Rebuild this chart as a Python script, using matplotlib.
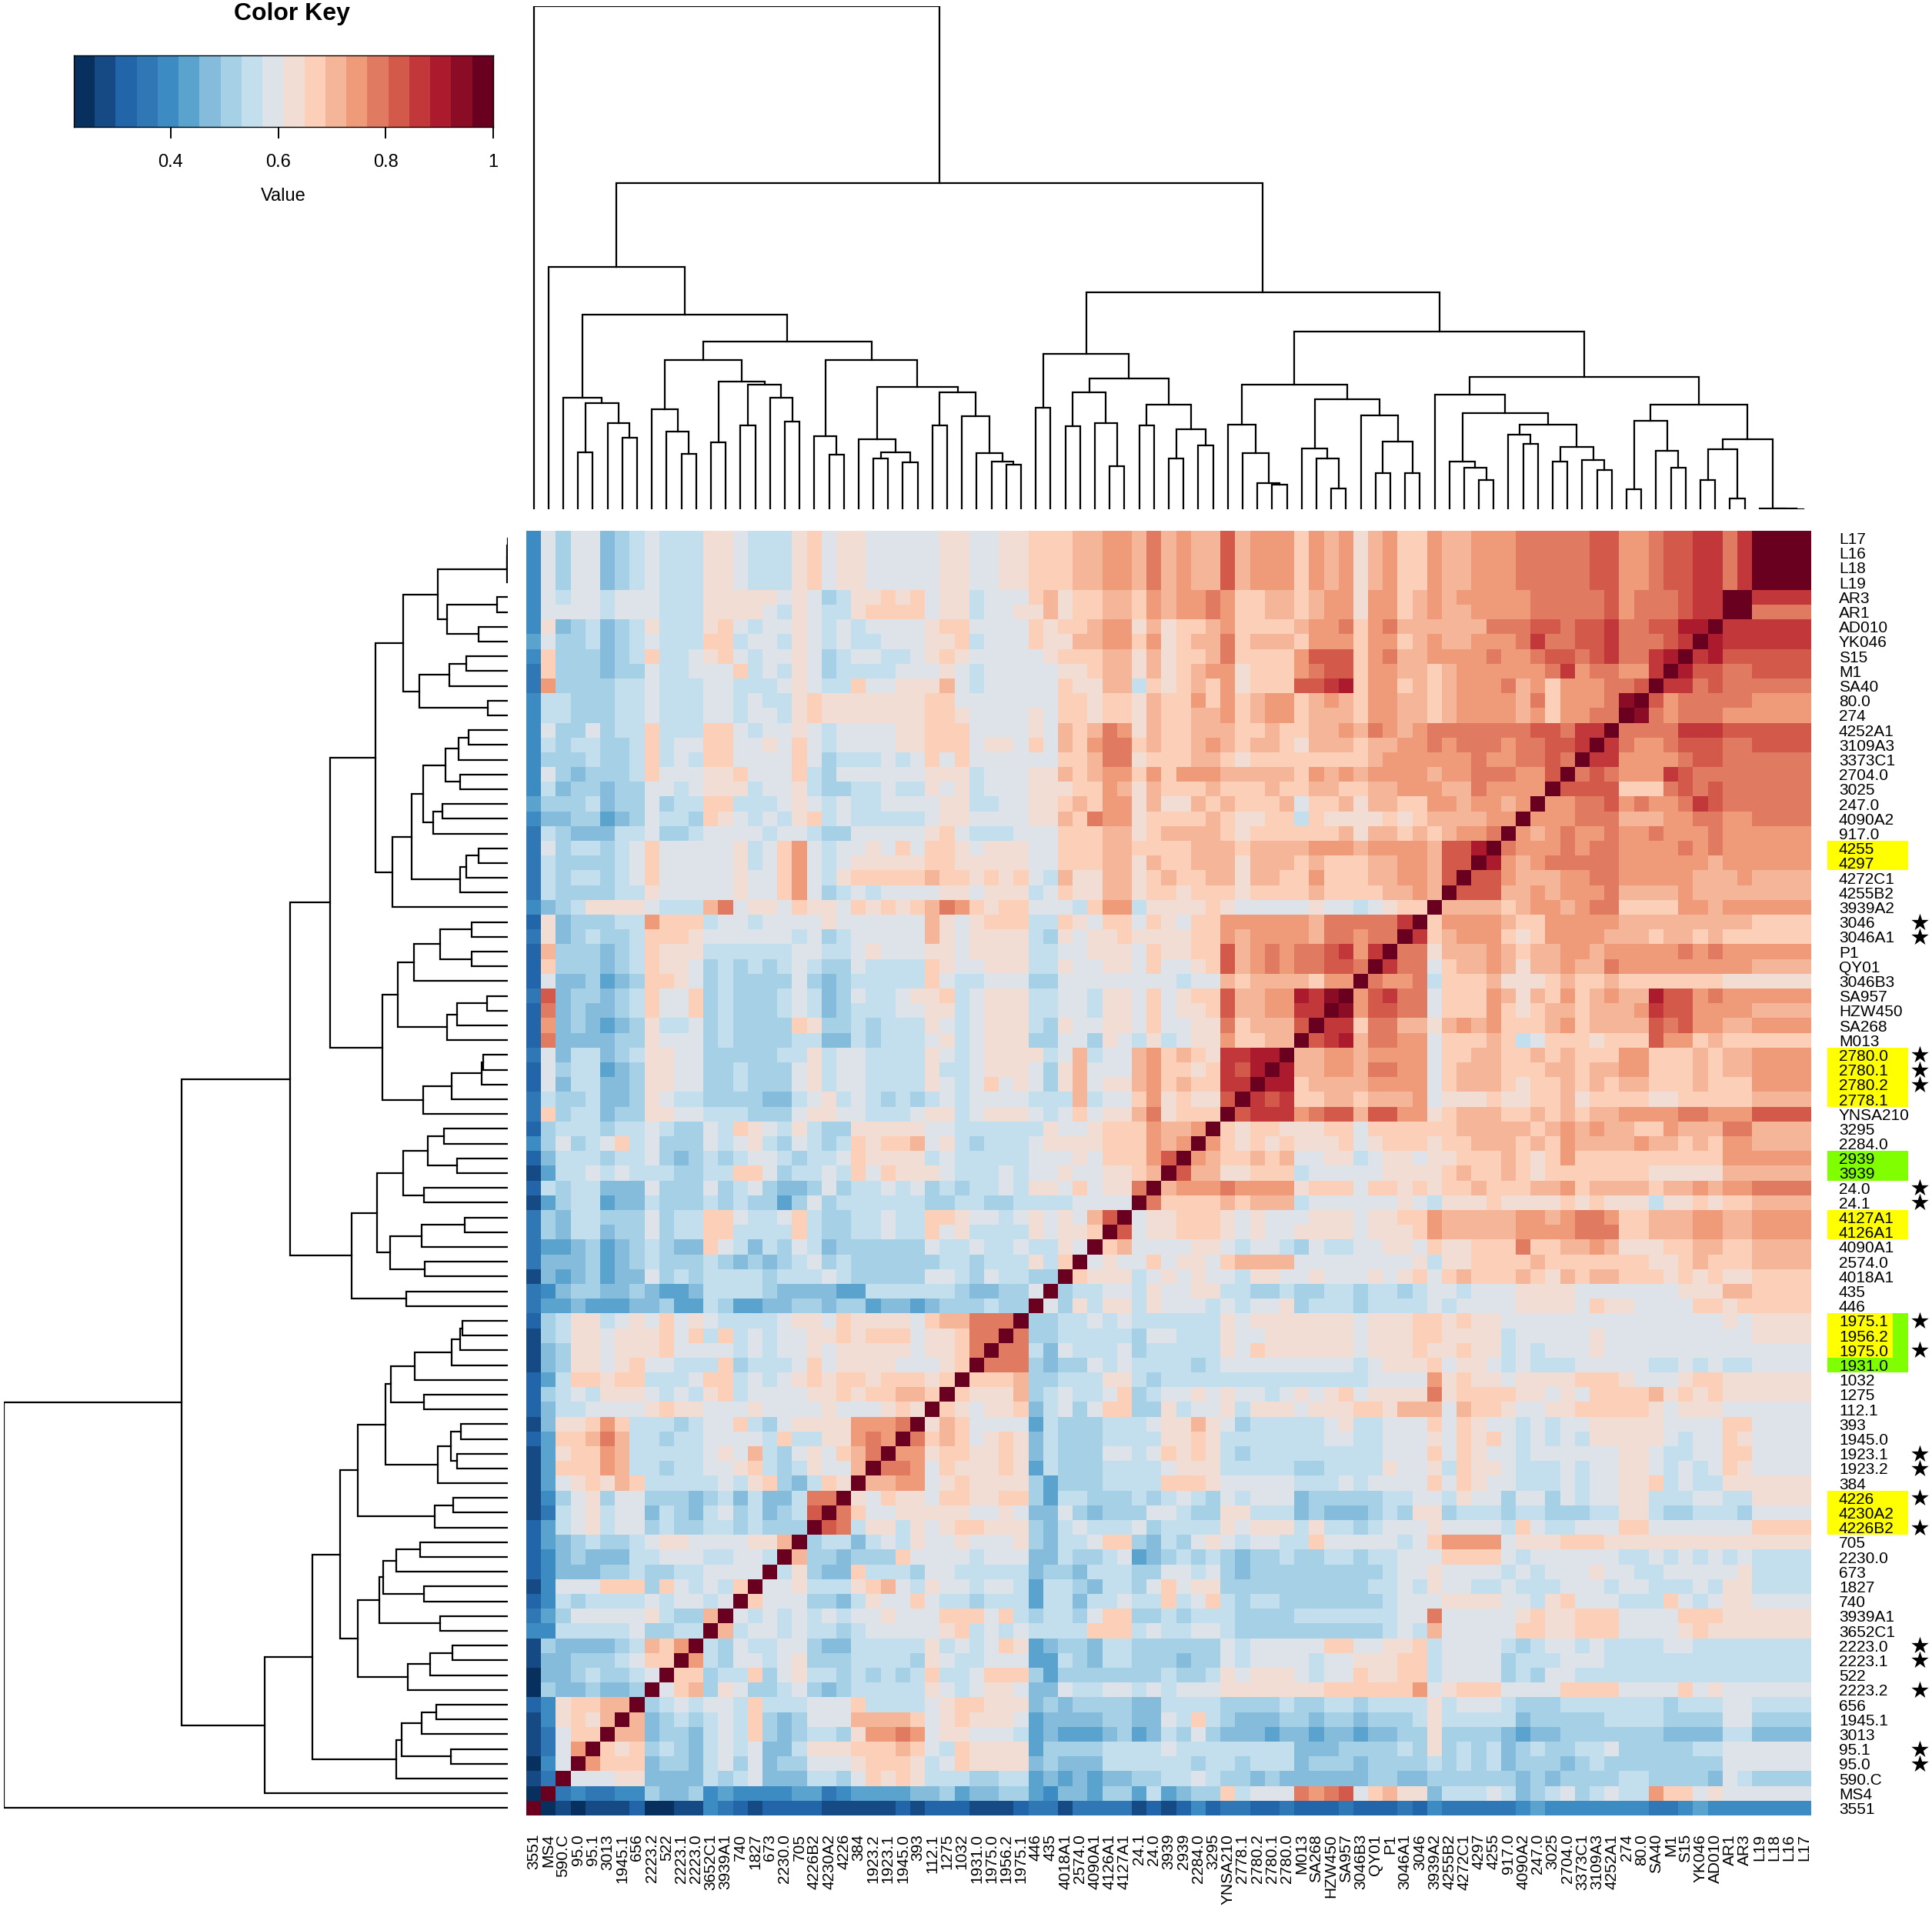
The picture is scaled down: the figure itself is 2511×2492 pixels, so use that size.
import numpy as np
import matplotlib
matplotlib.use("Agg")
import matplotlib.pyplot as plt
from matplotlib.colors import ListedColormap, BoundaryNorm
from matplotlib.patches import Rectangle
from matplotlib.collections import LineCollection

plt.rcParams['font.family'] = ['Liberation Sans', 'DejaVu Sans']

# ---------------- data ----------------
row_labels = ["L17", "L16", "L18", "L19", "AR3", "AR1", "AD010", "YK046", "S15", "M1",
              "SA40", "80.0", "274", "4252A1", "3109A3", "3373C1", "2704.0", "3025", "247.0",
              "4090A2", "917.0", "4255", "4297", "4272C1", "4255B2", "3939A2", "3046", "3046A1",
              "P1", "QY01", "3046B3", "SA957", "HZW450", "SA268", "M013", "2780.0", "2780.1",
              "2780.2", "2778.1", "YNSA210", "3295", "2284.0", "2939", "3939", "24.0", "24.1",
              "4127A1", "4126A1", "4090A1", "2574.0", "4018A1", "435", "446", "1975.1", "1956.2",
              "1975.0", "1931.0", "1032", "1275", "112.1", "393", "1945.0", "1923.1", "1923.2",
              "384", "4226", "4230A2", "4226B2", "705", "2230.0", "673", "1827", "740", "3939A1",
              "3652C1", "2223.0", "2223.1", "522", "2223.2", "656", "1945.1", "3013", "95.1",
              "95.0", "590.C", "MS4", "3551"]
col_labels = row_labels[::-1]

# colour-key bin (0..19, base-20 digit) of each cell left of the diagonal, row by row
level_rows = [
    "4979967898 88aa9888ab 9aa99999a a99aabbbcc ddcecdccfc dddbdcdac dbbdccddde eeeeffddef fggegjjj",
    "4979967898 88aa9888ab 9aa99999a a99aabbbcc ddcecdccfc dddbdcdac dbbdccddde eeeeffddef fggegjj",
    "4979967898 88aa9888ab 9aa99999a a99aabbbcc ddcecdccfc dddbdcdac dbbdccddde eeeeffddef fggegj",
    "4979967898 88aa9888ab 9aa99999a a99aabbbcc ddcecdccfc dddbdcdac dbbdccddde eeeeffddef fggeg",
    "4989989998 88aaaaa9a9 78aabab9a a8999bcabb ccbdcddedb bccbcddad dbcdcddddd eeeeefdeee fggj",
    "4999989998 88aaaa98a9 88abbbb9a a899aacabb ccbdcddedb bccbcddad dbcdccdddd eeeeefdeee fgg",
    "4a678678a8 88ab9899a9 8989999ab b9999babbc ddacabbcdb bbbcddebd ecccccceee ffeffgeeff hh",
    "5977867898 88bb8998a9 8988999aa b8999baacc ddbdabcceb cccbdddbd dbcdccddde geeffgeeef g",
    "4b777678b8 89ab9899a9 7899889ab a99999abbb ccacabbceb bbbdfffbd eccddddedd effefgeegh",
    "3b77767798 8999b898a9 78888999a 9899999aab ccacabcdda bbbdeffbd dccbcddddd degdeeddg",
    "3d77778898 88998889a9 88b99aaac 9899999baa cc8babcbda bbbffghbd dbcbcdddec dbdddeef",
    "4887778898 88998988ab aaaaaaabb 9999999bba bbacbbdbdb cddbcdcbd dccbcddddc ebdddei",
    "4887778898 88998998ab aaaaaaabb a9999a9bba bbacbbccdb cddbcccbd dccbcddddc dbddee",
    "49779788b8 88bb9899a9 89999aabb b9999a9cbc edacbbcccb bcbbccdce dcdeeeeeee ffegg",
    "48788778b8 99bb99a9b9 89999aabb b9aa9b9cbd eebcbbcdcb ccbacccbc cddedeeede effg",
    "47778778b8 98bb9999b9 7888989b9 b999999bbc eeabbbccba bbbbbbbbc ddddddedde efe",
    "49767778b9 99aab999b8 7999999aa a8999aacbc ddbdbdddcc cccbdcdcd dddcddeeed df",
    "4867767799 89aaa899a8 7788988a9 a8999aaabb dcacbbbcbb bcbbccbbc cdddccedddd",
    "5777867797 88bb8889a9 89889999a a8899aabcb ddacaacbcb bbc9bbcac cbbddcddcd",
    "4667756798 87ba9898ab 89888889a a9999aacbe ddabbbbcba abb8baaaa babccccdd",
    "3876668897 7899998998 7799999ab 9888999bbb ccabccccba bbbbbbcac cbcbcdde",
    "39788789b9 9999a89bd9 899a9b9bb a9aaa99bbb ccbbbbcccb ccccdddcd dddcffh",
    "38777789b9 9999a89bd9 89aaaaabb aaaaa99bbb ccacbbccca cccbcbbbc cddcff",
    "38788789b9 9999a99bd9 8abbbbbcb babab98caa ccabcbbcca ccbbdbbbc cddcf",
    "38777788a9 9999a99bd9 78989999a a9aaa89baa ccabbabbba bbbbcbbbb ccdc",
    "4678aaaa98 88ce9aa9ba a9bababce dbabb9998b dd8aaaaba9 9999a9989 abb",
    "2a677788db bb89989999 a999999ca 9abbb88ba9 bb9ba9bbdd ddddceeee eg",
    "3a678778bb ba99999989 7899999ca 9aaaa87a9a abaaaabbdc ddddceede e",
    "2c777678ba aa88888899 889a999aa 9aaaa8899a aa9baabbfc dedeefgdg",
    "2b777678ba a978787898 7798888ba 99aaa88a99 aa9b99abfc dedeeffe",
    "29667567bb a978777797 6788888b9 8899977999 99999899cb ccccbdd",
    "3f677678b9 9b78777898 679889aab 89aaa88998 aa9b9abbfc cddhgi",
    "2e676678b9 9b78777898 6788899aa 89aaa88998 aa9b9aabfc cddgg",
    "2d676567a8 89787777ba 7787888a9 89aaa87a99 aa9b99aaeb cccf",
    "2e666677a9 9978777788 66878889a 89aaa77997 a98a89aadb bcc",
    "39688678aa 997777788a 8998888a9 89aaaa89c8 99cdbcbagg hh",
    "29788567aa 997787779a 8998888a8 89aaa97ac9 99cdbbabgf h",
    "29688667aa 997787779a 8998888a9 89b9a97ac9 aacdbcbbgg",
    "38778667a9 8877776689 a89878789 89999888c8 99bdabaaf",
    "3b788677aa 998887779a a998889aa 89aaa989b9 aaceabbb",
    "2788878898 7798ba98a8 77aaaaa99 888888a99a bbbdccd",
    "479789b897 77989a8798 78babbc9a 878889aaaa bbbdcd",
    "2688878897 6787899878 89baaaa89 88888999a9 bbbdf",
    "1588989888 7788bb9788 98b9baaa9 8889899a99 aabc",
    "2878866697 7797897667 978898978 78898aa9b9 aae",
    "1578856687 7787877579 788888877 887788889999",
    "3768877797 88bb9889b8 7788988bb a9989a9a9cf",
    "3768867797 88bb8888b8 7788988b9 a8888a9aab",
    "3556756787 66b9868798 677777798 8988988a9",
    "3666756787 7787676789 787777778 87888a8b",
    "1656756697 8788887888 987777799 8798877",
    "3467766765 5688887666 655888888 766779",
    "3556555667 5587556677 677566567 77877",
    "278aa89a9b 9a988889aa 9baaaa9bc ceee",
    "178aa9aaab 9b8b89899a ababbb9aa bee",
    "167aa9aaab 999989899a 9aaaaa9aa be",
    "167aa9ab99 888b78889b 9aaaa999a b",
    "258bbabb88 89bb8989ab abbabbbab",
    "27898aaa98 98ab89999a ababbccb",
    "26889999ab aa999a9999 a999aba",
    "16aabdb888 7899b879aa aaddde",
    "25bbcec887 8899998b88 aaded",
    "15abbdc888 889a9c879a 9bce",
    "15bbbdc887 8899ab878a 99c",
    "159abacb88 88898ab768 ba",
    "1479a79977 767868668e e",
    "1389a89968 768978678f",
    "2589a89978 778878777",
    "256787789a a9999aac",
    "2467666889 9988998",
    "2466677877 889999",
    "14999bbb7b 9898b",
    "2487888898 9989",
    "35799999a8 77c",
    "4488888977 88",
    "17666678cb d",
    "16677789bb",
    "066787789",
    "07667667",
    "24abbcc",
    "14abac",
    "139bb",
    "139d",
    "049",
    "13",
    "0",
    "",
]

# dendrogram: (merge height, left, right); leaves are labels
tree = (1.510, "3551",
  (0.978,
    (0.728, "MS4",
      (0.585,
        (0.335, "590.C",
          (0.319, (0.170, "95.0", "95.1"), (0.259, "3013", (0.214, "1945.1", "656")))),
        (0.503,
          (0.449,
            (0.299, "2223.2", (0.233, "522", (0.167, "2223.1", "2223.0"))),
            (0.384, (0.202, "3652C1", "3939A1"),
                    (0.374, (0.251, "740", "1827"), (0.335, "673", (0.263, "2230.0", "705"))))),
          (0.449,
            (0.219, "4226B2", (0.163, "4230A2", "4226")),
            (0.367,
              (0.209, "384", (0.171, (0.152, "1923.2", "1923.1"), (0.141, "1945.0", "393"))),
              (0.350, (0.251, "112.1", "1275"),
                      (0.279, "1032", (0.168, "1931.0",
                                       (0.143, "1975.0", (0.135, "1956.2", "1975.1")))))))))),
    (0.652,
      (0.467, (0.304, "446", "435"),
        (0.392,
          (0.352, (0.249, "4018A1", "2574.0"), (0.259, "4090A1", (0.130, "4126A1", "4127A1"))),
          (0.313, (0.251, "24.1", "24.0"),
                  (0.239, (0.152, "3939", "2939"), (0.191, "2284.0", "3295"))))),
      (0.533,
        (0.375,
          (0.253, "YNSA210", (0.169, "2778.1", (0.079, "2780.2", (0.074, "2780.1", "2780.0")))),
          (0.330,
            (0.183, "M013", (0.153, "SA268", (0.062, "HZW450", "SA957"))),
            (0.282, "3046B3", (0.203, (0.109, "QY01", "P1"), (0.109, "3046A1", "3046"))))),
        (0.397,
          (0.345, "3939A2",
            (0.289,
              (0.143, "4255B2", (0.124, "4272C1", (0.087, "4297", "4255"))),
              (0.253,
                (0.224, "917.0", (0.197, "4090A2", "247.0")),
                (0.186, (0.142, "3025", "2704.0"),
                        (0.148, "3373C1", (0.117, "3109A3", "4252A1")))))),
          (0.313,
            (0.266, (0.061, "274", "80.0"), (0.175, "SA40", (0.125, "M1", "S15"))),
            (0.209, (0.181, (0.087, "YK046", "AD010"), (0.033, "AR1", "AR3")),
                    (0.002, "L19", (0.0013, "L18", (0.0006, "L16", "L17"))))))))))

key_colors = ["#08305f", "#164a85", "#2265a8", "#2f78b5", "#3c8bc2", "#5ba3cf", "#86bcdb",
              "#a5d0e5", "#c3dfee", "#dde3e8", "#f1ddd3", "#fbcfb8", "#f5b598", "#ef9a79",
              "#e07a61", "#d3594a", "#c1373a", "#ac1b2d", "#8b0c25", "#6a001f"]
vmin, vmax = 0.22, 1.0
key_ticks = [0.4, 0.6, 0.8, 1.0]
key_ticklabels = ["0.4", "0.6", "0.8", "1"]

yellow_groups = [["4255", "4297"], ["2780.0", "2780.1", "2780.2", "2778.1"],
                 ["4127A1", "4126A1"], ["4226", "4230A2", "4226B2"]]
green_groups = [["2939", "3939"], ["1975.1", "1956.2", "1975.0", "1931.0"]]
yellow_inner_groups = [["1975.1", "1956.2", "1975.0"]]
starred = ["3046", "3046A1", "2780.0", "2780.1", "2780.2", "24.0", "24.1", "1975.1", "1975.0",
           "1923.1", "1923.2", "4226", "4226B2", "2223.0", "2223.1", "2223.2", "95.1", "95.0"]

# ---------------- build matrix ----------------
n = len(row_labels)
nb = len(key_colors)
step = (vmax - vmin) / nb
M = np.full((n, n), 0.6)
np.fill_diagonal(M[:, ::-1], 1.0)
for i, s in enumerate(level_rows):
    s = s.replace(" ", "")[: n - 1 - i]
    for c, chv in enumerate(s):
        v = vmin + (int(chv, 20) + 0.5) * step
        M[i, c] = v
        M[n - 1 - c, n - 1 - i] = v

cmap = ListedColormap(key_colors)
norm = BoundaryNorm(np.linspace(vmin, vmax, nb + 1), nb)

# ---------------- figure ----------------
W, H = 2511, 2492
fig = plt.figure(figsize=(W / 100, H / 100), dpi=100)
fig.patch.set_facecolor("white")


def add_ax(x0, y0, x1, y1):
    return fig.add_axes([x0 / W, 1 - y1 / H, (x1 - x0) / W, (y1 - y0) / H])


HX0, HY0, HX1, HY1 = 684, 690, 2354, 2360
cw = (HX1 - HX0) / n
chh = (HY1 - HY0) / n

ax = add_ax(HX0, HY0, HX1, HY1)
ax.imshow(M, cmap=cmap, norm=norm, aspect="auto", interpolation="nearest",
          extent=(0, n, n, 0))
ax.set_xlim(0, n)
ax.set_ylim(n, 0)
ax.axis("off")


# dendrograms
def layout(node, pos):
    if isinstance(node, str):
        return pos[node], 0.0, []
    h, a, b = node
    xa, ha, sa = layout(a, pos)
    xb, hb, sb = layout(b, pos)
    return (xa + xb) / 2, h, sa + sb + [[(xa, ha), (xa, h), (xb, h), (xb, hb)]]


root_h = tree[0]
_, _, segs_top = layout(tree, {lab: c + 0.5 for c, lab in enumerate(col_labels)})
axt = add_ax(HX0, 8, HX1, 662)
axt.add_collection(LineCollection(segs_top, colors="black", linewidths=1.6,
                                  capstyle="projecting", joinstyle="miter"))
axt.set_xlim(0, n)
axt.set_ylim(0, root_h)
axt.axis("off")

_, _, segs_l = layout(tree, {lab: r + 0.5 for r, lab in enumerate(row_labels)})
segs_left = [[(hh, yy) for (yy, hh) in s] for s in segs_l]
axl = add_ax(5, HY0, 660, HY1)
axl.add_collection(LineCollection(segs_left, colors="black", linewidths=1.6,
                                  capstyle="projecting", joinstyle="miter"))
axl.set_xlim(root_h, 0)
axl.set_ylim(n, 0)
axl.axis("off")

# highlight boxes on the right labels
ridx = {lab: i for i, lab in enumerate(row_labels)}


def box(group, x0, x1, color):
    r0 = min(ridx[g] for g in group)
    r1 = max(ridx[g] for g in group) + 1
    y0 = HY0 + r0 * chh
    y1 = HY0 + r1 * chh
    fig.add_artist(Rectangle((x0 / W, 1 - y1 / H), (x1 - x0) / W, (y1 - y0) / H,
                             transform=fig.transFigure, facecolor=color, edgecolor="none",
                             zorder=1))


for g in yellow_groups:
    box(g, 2375, 2480, "#ffff00")
for g in green_groups:
    box(g, 2375, 2480, "#7fff00")
for g in yellow_inner_groups:
    box(g, 2375, 2460, "#ffff00")

for i, lab in enumerate(row_labels):
    yc = HY0 + (i + 0.5) * chh
    fig.text(2390 / W, 1 - yc / H, lab, ha="left", va="center_baseline", fontsize=15,
             zorder=3)

# star marks next to the starred labels (drawn as markers in the heatmap's data space)
star_x = n + (2495 - HX1) / cw
star_rows = [ridx[s] + 0.5 for s in starred]
ax.scatter([star_x] * len(star_rows), star_rows, marker="*", s=17 ** 2, color="black",
           linewidths=0, clip_on=False, zorder=5)

for c, lab in enumerate(col_labels):
    xc = HX0 + (c + 0.5) * cw
    fig.text(xc / W, 1 - 2384 / H, lab, ha="center", va="top", rotation=90, fontsize=15)

# colour key
axk = add_ax(96, 72, 641, 165)
axk.imshow(np.linspace(vmin + step / 2, vmax - step / 2, nb)[None, :], cmap=cmap, norm=norm,
           aspect="auto", interpolation="nearest", extent=(vmin, vmax, 0, 1))
axk.set_xlim(vmin, vmax)
axk.set_ylim(0, 1)
axk.set_yticks([])
axk.set_xticks(key_ticks)
axk.set_xticklabels(key_ticklabels)
axk.tick_params(axis="x", length=11, width=1.4, labelsize=17, pad=14)
for sp in axk.spines.values():
    sp.set_linewidth(1.0)
fig.text(368 / W, 1 - 255 / H, "Value", ha="center", va="center", fontsize=17)
fig.text(379 / W, 1 - 18 / H, "Color Key", ha="center", va="center", fontsize=23,
         fontweight="bold")

fig.savefig("out.png", dpi=100, facecolor="white")
